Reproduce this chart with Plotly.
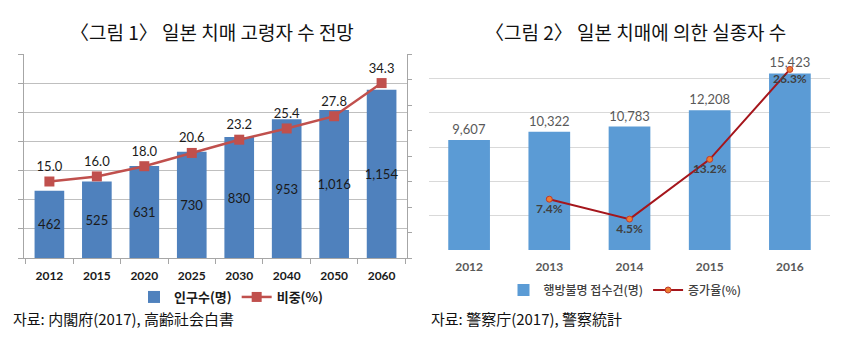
import plotly.graph_objects as go

# ---- data: figure 1 ----
years1 = ["2012", "2015", "2020", "2025", "2030", "2040", "2050", "2060"]
patients = [462, 525, 631, 730, 830, 953, 1016, 1154]
share_pct = [15.0, 16.0, 18.0, 20.6, 23.2, 25.4, 27.8, 34.3]

# ---- data: figure 2 ----
years2 = ["2012", "2013", "2014", "2015", "2016"]
missing = [9607, 10322, 10783, 12208, 15423]
growth_pct = [None, 7.4, 4.5, 13.2, 26.3]

W, H = 844, 345
def px(x):
    return x / W
def py(y):
    return 1 - y / H

CJK = "Noto Sans CJK KR"
NUM = "Lato"

fig = go.Figure()

# figure 1 traces
fig.add_trace(go.Bar(
    x=years1, y=patients, name="인구수(명)",
    marker=dict(color="#4F81BD", line=dict(width=0)),
    texttemplate="%{y:,}", textposition="inside", insidetextanchor="middle",
    textangle=0,
    textfont=dict(family=NUM, size=13, color="#1a1a1a"),
    constraintext="none", xaxis="x", yaxis="y", legend="legend",
    hoverinfo="skip",
))
fig.add_trace(go.Scatter(
    x=years1, y=share_pct, name="비중(%)", mode="lines+markers+text",
    line=dict(color="#C0504D", width=2.5),
    marker=dict(symbol="square", size=10, color="#C0504D"),
    text=[f"{v:.1f}" for v in share_pct], textposition="top center",
    textfont=dict(family=NUM, size=13, color="#1a1a1a"),
    cliponaxis=False, xaxis="x", yaxis="y2", legend="legend",
    hoverinfo="skip",
))

# figure 2 traces
fig.add_trace(go.Bar(
    x=years2, y=missing, name="행방불명 접수건(명)",
    marker=dict(color="#5B9BD5", line=dict(width=0)),
    texttemplate="%{y:,}", textposition="outside", textangle=0,
    textfont=dict(family=NUM, size=13, color="#595959"),
    constraintext="none", cliponaxis=False, width=0.52,
    xaxis="x2", yaxis="y3", legend="legend2", hoverinfo="skip",
))
fig.add_trace(go.Scatter(
    x=years2, y=growth_pct, name="증가율(%)", mode="lines+markers+text",
    line=dict(color="#A5161C", width=2),
    marker=dict(symbol="circle", size=6, color="#ED7D31",
                line=dict(color="#C0392B", width=1)),
    text=[("" if v is None else f"{v:.1f}%") for v in growth_pct],
    textposition="bottom center",
    textfont=dict(family=NUM, size=12, color="#404040", weight="bold"),
    cliponaxis=False, xaxis="x2", yaxis="y4", legend="legend2",
    hoverinfo="skip",
))

axcol = "#A6A6A6"
fig.update_layout(
    width=W, height=H, autosize=False,
    margin=dict(l=0, r=0, t=0, b=0),
    paper_bgcolor="white", plot_bgcolor="white",
    font=dict(family=CJK, color="#262626"),
    barmode="group",
    bargap=0.375,
    xaxis=dict(domain=[px(24), px(407)], type="category", anchor="y",
               showline=True, linecolor=axcol, linewidth=1,
               ticks="outside", tickson="boundaries", ticklen=5, tickcolor=axcol,
               tickfont=dict(family=NUM, size=12, color="#1a1a1a", weight="bold"),
               ticklabelstandoff=7, showgrid=False, fixedrange=True),
    yaxis=dict(domain=[py(258), py(54)], anchor="x", range=[0, 1400], dtick=200,
               showline=True, linecolor=axcol, ticks="outside", ticklen=5,
               tickcolor=axcol, showticklabels=False, showgrid=True,
               gridcolor="#BFBFBF", gridwidth=1, zeroline=False),
    yaxis2=dict(overlaying="y", side="right", anchor="x", range=[0, 40], dtick=5,
                showline=True, linecolor=axcol, ticks="outside", ticklen=4,
                tickcolor=axcol, showticklabels=False, showgrid=False,
                zeroline=False),
    xaxis2=dict(domain=[px(429), px(830)], type="category", anchor="y3",
                showline=False, ticks="", showgrid=False,
                tickfont=dict(family=NUM, size=12, color="#595959", weight="bold"),
                ticklabelstandoff=8),
    yaxis3=dict(domain=[py(250), py(44)], anchor="x2", range=[0, 18000],
                tickvals=[0, 3000, 6000, 9000, 12000, 15000],
                showticklabels=False, showgrid=True, gridcolor="#D9D9D9",
                zeroline=False, showline=False, ticks=""),
    yaxis4=dict(overlaying="y3", side="right", anchor="x2", range=[0, 30],
                showticklabels=False, showgrid=False, zeroline=False,
                showline=False, ticks=""),
    legend=dict(orientation="h", x=px(231), y=py(297), xanchor="center",
                yanchor="middle", font=dict(family=CJK, size=13, color="#1a1a1a",
                                            weight="bold"),
                itemwidth=30, tracegroupgap=0, bgcolor="rgba(0,0,0,0)"),
    legend2=dict(orientation="h", x=px(625), y=py(290), xanchor="center",
                 yanchor="middle", font=dict(family=CJK, size=12, color="#404040",
                                             weight=500),
                 itemwidth=30, bgcolor="rgba(0,0,0,0)"),
)

annotations = [
    dict(text="〈그림 1〉 일본 치매 고령자 수 전망", x=px(212), y=py(31),
         font=dict(family=CJK, size=19, color="#111111")),
    dict(text="〈그림 2〉 일본 치매에 의한 실종자 수", x=px(635), y=py(31),
         font=dict(family=CJK, size=19, color="#111111")),
]
for a in annotations:
    a.update(xref="paper", yref="paper", showarrow=False,
             xanchor="center", yanchor="middle")
src = [
    dict(text="자료: 内閣府(2017), 高齢社会白書", x=px(11), y=py(318)),
    dict(text="자료: 警察庁(2017), 警察統計", x=px(429), y=py(318)),
]
for a in src:
    a.update(xref="paper", yref="paper", showarrow=False, xanchor="left",
             yanchor="middle", font=dict(family=CJK, size=15, color="#111111"))
fig.update_layout(annotations=annotations + src)

fig.write_html("out.html")
